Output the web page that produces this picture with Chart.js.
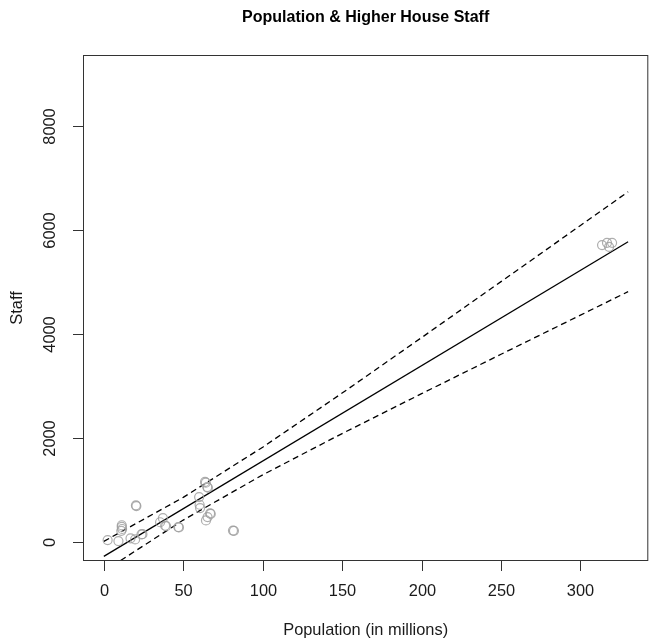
<!DOCTYPE html>
<html>
<head>
<meta charset="utf-8">
<title>Population & Higher House Staff</title>
<script src="https://cdn.jsdelivr.net/npm/chart.js@4"></script>
<style>
  html, body { margin: 0; padding: 0; background: #fff; }
  canvas { display: block; }
</style>
</head>
<body>
<canvas id="grafica" width="654" height="643"></canvas>
<script>
// datos (poblacion en millones, personal)
const poblacion = [2.4, 9.2, 16.8, 19.7, 11.3, 11.3, 11.5, 11.0, 23.7, 24.3, 20.2, 20.5,
  35.4, 37.2, 38.6, 39.2, 46.9, 47.3, 63.7, 64.2, 65.1, 65.5, 60.0, 60.3, 60.6,
  66.9, 67.3, 65.3, 64.3, 81.3, 81.9, 313.6, 316.7, 319.9, 318.0];
const personal = [38, 18, 70, 50, 322, 290, 250, 215, 145, 150, 705, 690,
  380, 458, 313, 305, 288, 280, 1155, 1140, 1056, 1045, 864, 716, 653,
  550, 540, 480, 415, 220, 215, 5708, 5752, 5752, 5675];

// recta de regresion y banda de confianza
const xRecta = [0, 330];
const yRecta = [-276, 5773];
const xBanda = [0, 50, 100, 150, 200, 250, 300, 330];
const bandaSup = [12, 858, 1823, 2863, 3929, 5005, 6085, 6733];
const bandaInf = [-564, 422, 1291, 2085, 2851, 3609, 4361, 4813];

const ticksX = [0, 50, 100, 150, 200, 250, 300];
const ticksY = [0, 2000, 4000, 6000, 8000];

const titulo = "Population & Higher House Staff";
const tituloX = "Population (in millions)";
const tituloY = "Staff";

const puntos = poblacion.map((x, i) => ({ x: x, y: personal[i] }));
const recta = xRecta.map((x, i) => ({ x: x, y: yRecta[i] }));
const sup = xBanda.map((x, i) => ({ x: x, y: bandaSup[i] }));
const inf = xBanda.map((x, i) => ({ x: x, y: bandaInf[i] }));

const fuente = '"Liberation Sans", Arial, Helvetica, sans-serif';

// ejes estilo R: caja, marcas hacia afuera y etiquetas
const ejesR = {
  id: "ejesR",
  afterDraw(chart) {
    const { ctx, chartArea: a, scales } = chart;
    const sx = scales.x, sy = scales.y;
    ctx.save();

    ctx.strokeStyle = "#333";
    ctx.lineWidth = 1;
    ctx.strokeRect(a.left + 0.5, a.top + 0.5, a.right - a.left - 1, a.bottom - a.top - 1);

    ctx.fillStyle = "#1a1a1a";
    ctx.font = "16.4px " + fuente;
    ctx.textAlign = "center";
    ctx.textBaseline = "middle";

    ticksX.forEach(v => {
      const px = Math.round(sx.getPixelForValue(v)) + 0.5;
      ctx.beginPath();
      ctx.moveTo(px, a.bottom);
      ctx.lineTo(px, a.bottom + 10);
      ctx.stroke();
      ctx.fillText(String(v), px, 591);
    });

    ticksY.forEach(v => {
      const py = Math.round(sy.getPixelForValue(v)) + 0.5;
      ctx.beginPath();
      ctx.moveTo(a.left, py);
      ctx.lineTo(a.left - 10, py);
      ctx.stroke();
      ctx.save();
      ctx.translate(50, py);
      ctx.rotate(-Math.PI / 2);
      ctx.fillText(String(v), 0, 0);
      ctx.restore();
    });

    const centroX = (a.left + a.right) / 2;
    const centroY = (a.top + a.bottom) / 2;
    ctx.fillText(tituloX, centroX, 630);
    ctx.save();
    ctx.translate(17, centroY);
    ctx.rotate(-Math.PI / 2);
    ctx.fillText(tituloY, 0, 0);
    ctx.restore();

    ctx.fillStyle = "#000";
    ctx.font = "bold 16px " + fuente;
    ctx.fillText(titulo, centroX, 18);

    ctx.restore();
  }
};

new Chart(document.getElementById("grafica"), {
  type: "scatter",
  data: {
    datasets: [
      {
        label: "Paises",
        data: puntos,
        pointStyle: "circle",
        pointRadius: 4.5,
        pointBorderWidth: 1.2,
        pointBorderColor: "rgba(160,160,160,0.85)",
        pointBackgroundColor: "rgba(0,0,0,0)",
        showLine: false
      },
      {
        label: "Ajuste",
        data: recta,
        showLine: true,
        borderColor: "#000",
        borderWidth: 1.3,
        pointRadius: 0
      },
      {
        label: "Superior",
        data: sup,
        showLine: true,
        borderColor: "#000",
        borderWidth: 1.3,
        borderDash: [6, 4],
        pointRadius: 0
      },
      {
        label: "Inferior",
        data: inf,
        showLine: true,
        borderColor: "#000",
        borderWidth: 1.3,
        borderDash: [6, 4],
        pointRadius: 0
      }
    ]
  },
  options: {
    responsive: false,
    animation: false,
    devicePixelRatio: 1,
    layout: { padding: { left: 83, top: 55, right: 5, bottom: 82 } },
    plugins: {
      legend: { display: false },
      tooltip: { enabled: false }
    },
    scales: {
      x: { type: "linear", min: -13.1, max: 342.7, display: false },
      y: { type: "linear", min: -365, max: 9362, display: false }
    }
  },
  plugins: [ejesR]
});
</script>
</body>
</html>
